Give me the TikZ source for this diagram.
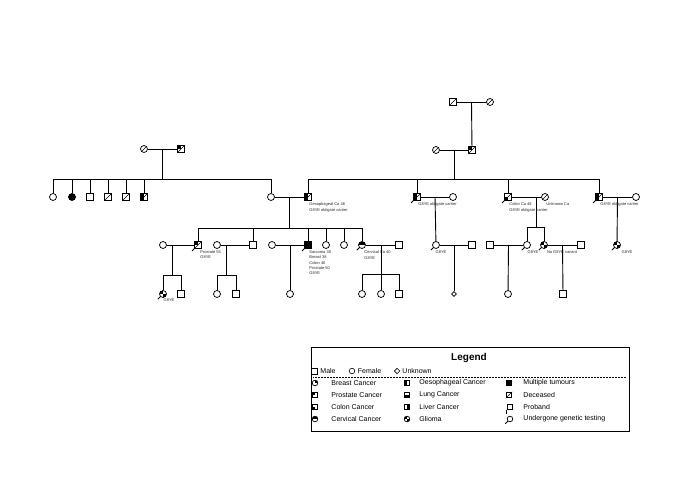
\documentclass[tikz,border=0pt]{standalone}
\usepackage{fontspec}
\setmainfont{Liberation Sans}
\usetikzlibrary{calc,shapes.geometric}

\tikzset{
  person/.style={draw, inner sep=0pt, fill=white, line width=0.75pt},
  male/.style={person, rectangle, minimum size=6.4pt},
  female/.style={person, circle, minimum size=7pt},
  unknown/.style={person, diamond, minimum size=6pt},
  lgsym/.style={minimum size=5.6pt},
  dead/.style={append after command={(\tikzlastnode.south west) edge[line width=0.6pt] (\tikzlastnode.north east)}},
  tested/.style={append after command={(\tikzlastnode.south west) edge[line width=1pt] +(-2.4pt,-2.4pt)}},
  proband/.style={append after command={(\tikzlastnode.south west) edge[line width=0.8pt] +(0pt,-3.4pt)}},
  breast/.style={path picture={\fill[black] (path picture bounding box.center) rectangle (path picture bounding box.north east);}},
  pros/.style={path picture={\fill[black] (path picture bounding box.center) rectangle (path picture bounding box.north west);}},
  colon/.style={path picture={\fill[black] (path picture bounding box.center) rectangle (path picture bounding box.south west);}},
  cerv/.style={path picture={\fill[black] (path picture bounding box.west) rectangle (path picture bounding box.north east);}},
  oes/.style={path picture={\fill[black] (path picture bounding box.south west) rectangle (path picture bounding box.north);}},
  lung/.style={path picture={\fill[black] (path picture bounding box.south west) rectangle (path picture bounding box.east);}},
  liver/.style={path picture={\fill[black] (path picture bounding box.south) rectangle (path picture bounding box.north east);}},
  glioma/.style={path picture={\fill[black] (path picture bounding box.center) rectangle (path picture bounding box.north west);
    \fill[black] (path picture bounding box.center) rectangle (path picture bounding box.south east);}},
  multi/.style={fill=black},
  lbl/.style={font=\fontsize{4}{5.2}\selectfont, text=black!85, inner sep=0pt, align=left, anchor=north west},
  lblc/.style={lbl, anchor=north, align=center},
  lgtext/.style={font=\fontsize{7}{8}\selectfont, inner sep=0pt, anchor=west},
}

\begin{document}
\begin{tikzpicture}[x=1pt, y=-1pt, line width=0.9pt]
\useasboundingbox (0,0) rectangle (685,484);

% generation I
\node[male, dead] (iA) at (453,102) {};
\node[female, dead] (iB) at (490,102) {};

% generation II
\node[female, dead] (iiA) at (144,149) {};
\node[male, dead, pros] (iiB) at (181,149) {};
\node[female, dead] (iiC) at (436,150) {};
\node[male, dead, pros] (iiD) at (472,150) {};

% generation III
\node[female] (iiia) at (53,197) {};
\node[female, multi] (iiib) at (72,197) {};
\node[male] (iiic) at (90,197) {};
\node[male, dead] (iiid) at (108,197) {};
\node[male, dead] (iiie) at (126,197) {};
\node[male, dead, oes] (iiif) at (144,197) {};
\node[female] (iiig) at (271,197) {};
\node[male, dead, oes] (iiih) at (308,197) {};
\node[male, dead, oes, tested] (iiii) at (417,197) {};
\node[female] (iiil) at (453,197) {};
\node[male, dead, colon, tested] (iiij) at (508,197) {};
\node[female, dead] (iiim) at (545,197) {};
\node[male, dead, oes, tested] (iiik) at (599,197) {};
\node[female] (iiin) at (636,197) {};

% generation IV
\node[female] (ivg) at (163,245) {};
\node[male, dead, pros, tested] (iva) at (198,245) {};
\node[female] (ivh) at (217,245) {};
\node[male] (ivb) at (253,245) {};
\node[female] (ivi) at (272,245) {};
\node[male, multi, tested] (ivc) at (308,245) {};
\node[female] (ivd) at (326,245) {};
\node[female] (ive) at (344,245) {};
\node[female, cerv, tested] (ivf) at (362,245) {};
\node[male] (ivj) at (399,245) {};
\node[female, tested] (ivk) at (436,245) {};
\node[male] (ivo) at (472,245) {};
\node[male] (ivp) at (490,245) {};
\node[female, tested] (ivl) at (527,245) {};
\node[female, glioma, tested] (ivm) at (544,245) {};
\node[male] (ivq) at (581,245) {};
\node[female, glioma, tested] (ivn) at (617,245) {};

% generation V
\node[female, glioma, tested] (va) at (163,294) {};
\node[male] (vb) at (181,294) {};
\node[female] (vc) at (217,294) {};
\node[male] (vd) at (236,294) {};
\node[female] (ve) at (290,294) {};
\node[female] (vf) at (362,294) {};
\node[female] (vg) at (381,294) {};
\node[male] (vh) at (399,294) {};
\node[unknown, minimum size=5pt] (vi) at (454,294) {};
\node[female] (vj) at (508,294) {};
\node[male] (vk) at (563,294) {};

% couples and lines of descent
\draw (iA) -- (iB);
\coordinate (cI) at ($(iA)!0.5!(iB)$);
\draw (cI) -- (iiD);

\draw (iiA) -- (iiB);
\coordinate (cIIa) at ($(iiA)!0.5!(iiB)$);
\coordinate (sIIa) at (162.5,179);
\draw (cIIa) -- (sIIa);
\foreach \c in {iiia,iiib,iiic,iiid,iiie,iiif,iiig} \draw (sIIa) -| (\c);

\draw (iiC) -- (iiD);
\coordinate (cIIb) at ($(iiC)!0.5!(iiD)$);
\coordinate (sIIb) at (454,179);
\draw (cIIb) -- (sIIb);
\foreach \c in {iiih,iiii,iiij,iiik} \draw (sIIb) -| (\c);

\draw (iiig) -- (iiih);
\coordinate (cIIIa) at ($(iiig)!0.5!(iiih)$);
\coordinate (sIIIa) at (289.5,228);
\draw (cIIIa) -- (sIIIa);
\foreach \c in {iva,ivb,ivc,ivd,ive,ivf} \draw (sIIIa) -| (\c);

\draw (iiii) -- (iiil);
\coordinate (cIIIb) at ($(iiii)!0.5!(iiil)$);
\draw (cIIIb) -- (ivk);

\draw (iiij) -- (iiim);
\coordinate (cIIIc) at (536,197);
\coordinate (sIIIc) at (536,227);
\draw (cIIIc) -- (sIIIc);
\foreach \c in {ivl,ivm} \draw (sIIIc) -| (\c);

\draw (iiik) -- (iiin);
\coordinate (cIIId) at ($(iiik)!0.5!(iiin)$);
\draw (cIIId) -- (ivn);

\draw (ivg) -- (iva);
\coordinate (cIVa) at (172,245);
\coordinate (sIVa) at (172,275);
\draw (cIVa) -- (sIVa);
\foreach \c in {va,vb} \draw (sIVa) -| (\c);

\draw (ivh) -- (ivb);
\coordinate (cIVb) at (226.5,245);
\coordinate (sIVb) at (226.5,275);
\draw (cIVb) -- (sIVb);
\foreach \c in {vc,vd} \draw (sIVb) -| (\c);

\draw (ivi) -- (ivc);
\coordinate (cIVc) at (290,245);
\draw (cIVc) -- (ve);

\draw (ivf) -- (ivj);
\coordinate (cIVd) at (381,245);
\coordinate (sIVd) at (381,274);
\draw (cIVd) -- (sIVd);
\foreach \c in {vf,vg,vh} \draw (sIVd) -| (\c);

\draw (ivk) -- (ivo);
\coordinate (cIVe) at ($(ivk)!0.5!(ivo)$);
\draw (cIVe) -- (vi);

\draw (ivp) -- (ivl);
\coordinate (cIVf) at ($(ivp)!0.5!(ivl)$);
\draw (cIVf) -- (vj);

\draw (ivm) -- (ivq);
\coordinate (cIVg) at ($(ivm)!0.5!(ivq)$);
\draw (cIVg) -- (vk);

% labels
\node[lbl] (tiiih) at (309,202.5) {Oesophageal Ca 46\\G8YE obligate carrier};
\node[lbl] (tiiii) at (418,202.5) {G8YE obligate carrier};
\node[lbl] (tiiij) at (509,202.5) {Colon Ca 48\\G8YE obligate carrier};
\node[lbl] (tiiim) at (546,202.5) {Unknown Ca};
\node[lbl] (tiiik) at (600,202.5) {G8YE obligate carrier};
\node[lbl] (tiva) at (200,250.5) {Prostate 55\\G8YE};
\node[lbl] (tivc) at (309,250.5) {Sarcoma 30\\Breast 38\\Colon 40\\Prostate 50\\G8YE};
\node[lbl] (tivf) at (364,250.5) {Cervical Ca 40\\G8YE};
\node[lblc] (tivk) at (441,250.5) {G8YE};
\node[lblc] (tivl) at (533,250.5) {G8YE};
\node[lblc] (tivm) at (562,250.5) {No G8YE variant};
\node[lblc] (tivn) at (627,250.5) {G8YE};
\node[lblc] (tva) at (169,298.5) {G8YE};

% legend
\node[draw, line width=0.6pt, minimum width=318pt, minimum height=84pt, inner sep=0pt] (legend) at (470,389) {};
\node[font=\bfseries\fontsize{10}{12}\selectfont, inner sep=0pt] (lgtitle) at (469,358) {Legend};
\node[male, lgsym, line width=0.6pt] (lgm) at (314,371) {};
\node[lgtext] (lgmt) at (320,371) {Male};
\node[female, lgsym, line width=0.6pt] (lgf) at (352,371) {};
\node[lgtext] (lgft) at (357.5,371) {Female};
\node[unknown, minimum size=5.6pt, line width=0.6pt] (lgu) at (397,371) {};
\node[lgtext] (lgut) at (402,371) {Unknown};
\draw[densely dotted, line width=0.5pt] (313,377) -- (626,377);

\node[female, lgsym, breast] (lg1) at (315,383) {};
\node[lgtext] (lg1t) at (331,383) {Breast Cancer};
\node[male, lgsym, pros] (lg2) at (315,395) {};
\node[lgtext] (lg2t) at (331,395) {Prostate Cancer};
\node[male, lgsym, colon] (lg3) at (315,407) {};
\node[lgtext] (lg3t) at (331,407) {Colon Cancer};
\node[female, lgsym, cerv] (lg4) at (315,419) {};
\node[lgtext] (lg4t) at (331,419) {Cervical Cancer};

\node[male, lgsym, oes] (lg5) at (407,383) {};
\node[lgtext] (lg5t) at (419,383) {Oesophageal Cancer};
\node[male, lgsym, lung] (lg6) at (407,395) {};
\node[lgtext] (lg6t) at (419,395) {Lung Cancer};
\node[male, lgsym, liver] (lg7) at (407,407) {};
\node[lgtext] (lg7t) at (419,407) {Liver Cancer};
\node[female, lgsym, glioma] (lg8) at (407,419) {};
\node[lgtext] (lg8t) at (419,419) {Glioma};

\node[male, lgsym, multi] (lg9) at (509,383) {};
\node[lgtext] (lg9t) at (523,383) {Multiple tumours};
\node[male, lgsym, dead] (lg10) at (509,395) {};
\node[lgtext] (lg10t) at (523,395) {Deceased};
\node[male, lgsym, proband] (lg11) at (510,407) {};
\node[lgtext] (lg11t) at (523,407) {Proband};
\node[female, lgsym, tested] (lg12) at (510,419) {};
\node[lgtext] (lg12t) at (523,419) {Undergone genetic testing};
\end{tikzpicture}
\end{document}
